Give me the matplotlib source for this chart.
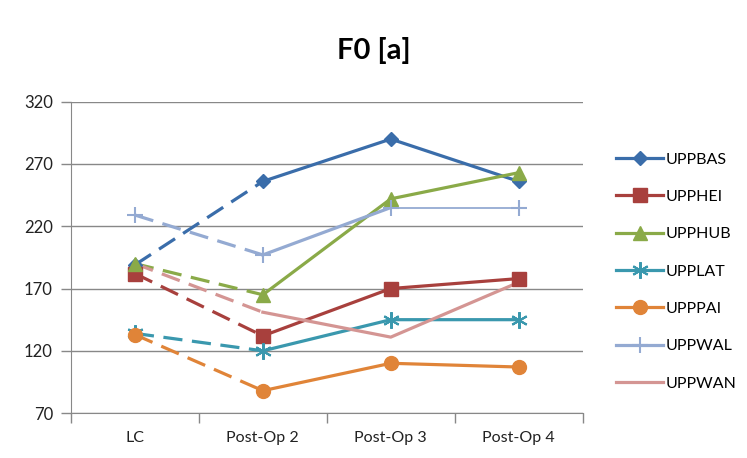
import numpy as np
import matplotlib
matplotlib.use("Agg")
import matplotlib.pyplot as plt
from matplotlib.lines import Line2D

plt.rcParams['font.family'] = ['Lato', 'DejaVu Sans']

# data
categories = ['LC', 'Post-Op 2', 'Post-Op 3', 'Post-Op 4']
series_names = ['UPPBAS', 'UPPHEI', 'UPPHUB', 'UPPLAT', 'UPPPAI', 'UPPWAL', 'UPPWAN']
uppbas = [189, 256, 290, 256]
upphei = [182, 132, 170, 178]
upphub = [190, 165, 242, 263]
upplat = [134, 120, 145, 145]
upppai = [133, 88, 110, 107]
uppwal = [229, 197, 235, 235]
uppwan = [190, 151, 131, 175]
yticks = [70, 120, 170, 220, 270, 320]

values = [uppbas, upphei, upphub, upplat, upppai, uppwal, uppwan]
colors = ['#3A6DAA', '#A8403D', '#8AAA48', '#3A98AE', '#E08438', '#94AAD2', '#D49593']
markers = ['D', 's', '^', (6, 2, 0), 'o', '+', None]
msizes = [7, 10, 10, 12, 10, 12, 0]

fig = plt.figure(figsize=(7.47, 4.58), dpi=100)
ax = fig.add_axes([0.095, 0.098, 0.685, 0.68])

x = np.arange(len(categories))
lw = 2.3
handles = []
for name, y, c, m, ms in zip(series_names, values, colors, markers, msizes):
    # first segment dashed, the rest solid
    ax.plot(x[:2], y[:2], color=c, lw=lw, ls=(0, (6, 3)), solid_capstyle='butt', zorder=3)
    if name == 'UPPWAL':
        ax.plot(x[1:3], y[1:3], color=c, lw=lw, zorder=3)
        ax.plot(x[2:], y[2:], color=c, lw=1.3, zorder=3)
    else:
        ax.plot(x[1:], y[1:], color=c, lw=lw, zorder=3)
    mew = 1.5 if m in ('+', (6, 2, 0)) else 1
    if m is not None:
        ax.plot(x, y, ls='none', marker=m, ms=ms, color=c, mec=c, mew=mew, zorder=4)
    handles.append(Line2D([0], [0], color=c, lw=lw, marker=m, ms=ms, mec=c, mew=mew))

ax.set_xlim(-0.5, 3.5)
ax.set_ylim(70, 320)
ax.set_yticks(yticks)
ax.set_xticks(x)
ax.set_xticklabels(categories)
ax.set_xticks(np.arange(-0.5, 4.0, 1.0), minor=True)
ax.tick_params(axis='x', which='major', length=0, pad=13, labelsize=11.5, colors='#222222')
ax.tick_params(axis='x', which='minor', length=7, color='#888888', width=1)
ax.tick_params(axis='y', length=7, color='#888888', width=1, pad=6, labelsize=12,
               labelcolor='#222222')

ax.grid(axis='y', color='#888888', lw=1)
ax.set_axisbelow(True)
for s in ['top', 'right']:
    ax.spines[s].set_visible(False)
ax.spines['left'].set_color('#888888')
ax.spines['bottom'].set_color('#888888')

fig.text(0.5, 0.89, 'F0 [a]', ha='center', va='center', fontsize=21, fontweight='bold')

fig.legend(handles, series_names, loc='center left', bbox_to_anchor=(0.806, 0.407),
           frameon=False, fontsize=11.5, handlelength=2.9, handletextpad=0.2,
           labelspacing=1.45)

plt.savefig('out.png', dpi=100)
